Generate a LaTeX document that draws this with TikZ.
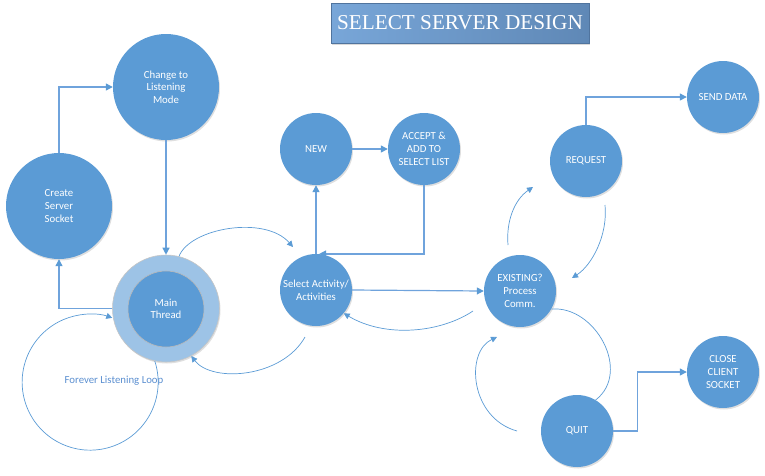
\documentclass[tikz,border=0pt]{standalone}
\usepackage{fontspec}
\setmainfont{Carlito}
\newfontfamily\titlefont{Liberation Serif}
\usetikzlibrary{arrows.meta,shadows,calc}
\definecolor{nodeblue}{HTML}{5B9BD5}
\definecolor{ringblue}{HTML}{9DC3E6}
\definecolor{lineblue}{HTML}{6FA3DC}
\definecolor{titleL}{HTML}{78A6D8}
\definecolor{titleR}{HTML}{5F88B6}
\definecolor{titleB}{HTML}{50749E}
\definecolor{labelblue}{HTML}{5B8FD0}
\begin{document}
\begin{tikzpicture}[x=1pt,y=-1pt,
  state/.style={circle, fill=nodeblue, text=white, minimum size=72pt, inner sep=0pt,
    align=center, font=\fontsize{10.8}{12.7}\selectfont,
    drop shadow={opacity=0.25,shadow xshift=1pt,shadow yshift=-1.5pt}},
  bigstate/.style={state, minimum size=106pt},
  link/.style={draw=lineblue, line width=1.2pt, -{Triangle[length=7pt,width=7pt,color=nodeblue]}},
  curvelink/.style={draw=nodeblue, line width=0.7pt, -{Triangle[length=6pt,width=6pt]}},
  curveplain/.style={draw=nodeblue, line width=0.7pt},
]
\useasboundingbox (0,0) rectangle (765,475);

% title
\node[draw=titleB, line width=0.6pt, left color=titleL, right color=titleR,
  minimum width=258pt, minimum height=40pt, inner sep=0pt,
  drop shadow={opacity=0.3,shadow xshift=1pt,shadow yshift=-2pt},
  text=white, font=\titlefont\fontsize{21.2}{23}\selectfont] (title) at (460,23) {SELECT SERVER DESIGN};

% nodes
\node[bigstate] (cl) at (166,87) {Change to\\Listening\\Mode};
\node[bigstate] (cs) at (59,206) {Create\\Server\\Socket};
\node[circle, fill=ringblue, draw=gray!45, line width=0.6pt, minimum size=107pt, inner sep=0pt,
  drop shadow={opacity=0.25,shadow xshift=1pt,shadow yshift=-1.5pt}] (main) at (166,308.5) {};
\node[circle, fill=nodeblue, draw=gray!55, line width=0.6pt, minimum size=76pt, inner sep=0pt,
  text=white, align=center, font=\fontsize{10.8}{12}\selectfont] (mainin) at (166,309) {Main\\Thread};
\node[state] (sel) at (316,290) {Select Activity/\\Activities};
\node[state] (new) at (316,149) {NEW};
\node[state] (acc) at (424,149) {ACCEPT \&\\ADD TO\\SELECT LIST};
\node[state] (ex) at (520,291) {EXISTING?\\Process\\Comm.};
\node[state] (req) at (586,161) {REQUEST};
\node[state] (sd) at (723,97) {SEND DATA};
\node[state] (quit) at (577,431) {QUIT};
\node[state] (close) at (723,372) {CLOSE\\CLIENT\\SOCKET};

\node[text=labelblue, font=\fontsize{10.8}{12}\selectfont] (looplbl) at (114,381) {Forever Listening Loop};

% straight connectors
\draw[link] (cs.north) |- (cl.west);
\draw[link] (cl.south) -- (main.north);
\draw[link] (main.west) -| (cs.south);
\draw[link] (sel.north) -- (new.south);
\draw[link] (new.east) -- (acc.west);
\draw[link] (acc.south) |- (sel.85);
\draw[link] (sel.east) -- (ex.west);
\draw[link] (req.north) |- (sd.west);
\draw[link] (quit.east) -- ++(24,0) |- (close.west);

% curved connectors
\coordinate (a4e) at (293,247);
\draw[curvelink] (main.76) .. controls (190,228) and (265,215) .. (a4e);
\coordinate (a5s) at (305,337);
\draw[curvelink] (a5s) .. controls (282,378) and (212,383) .. (main.298);
\coordinate (a10s) at (473,311);
\draw[curvelink] (a10s) .. controls (440,333) and (385,338) .. (sel.320);
\coordinate (a11s) at (508,245);
\coordinate (a11e) at (533,187);
\draw[curvelink] (a11s) .. controls (506,222) and (514,200) .. (a11e);
\coordinate (a12s) at (605,205);
\coordinate (a12e) at (572,278);
\draw[curvelink] (a12s) .. controls (608,235) and (592,265) .. (a12e);
\draw[curveplain] (ex.330) .. controls (595,305) and (632,372) .. (quit.59);
\coordinate (a15s) at (517,431);
\coordinate (a15e) at (497,337);
\draw[curvelink] (a15s) .. controls (470,418) and (465,352) .. (a15e);

% forever loop
\draw[curvelink] (main.258) arc[start angle=-18, end angle=289, radius=68];
\end{tikzpicture}
\end{document}
